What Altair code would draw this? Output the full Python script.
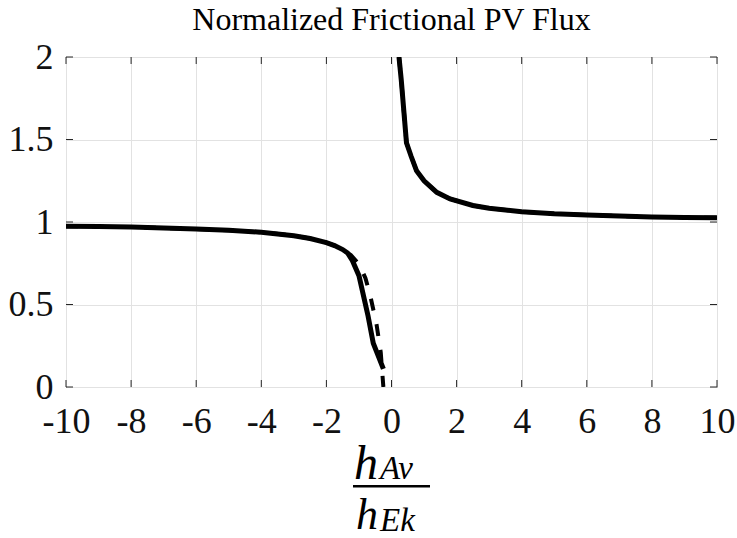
import altair as alt
import pandas as pd

# ---------------- data ----------------
title_text = "Normalized Frictional PV Flux"
x_ticks = [-10, -8, -6, -4, -2, 0, 2, 4, 6, 8, 10]
y_ticks = [0, 0.5, 1, 1.5, 2]

solid_left_x = [-10, -9, -8, -7, -6, -5, -4, -3, -2.5, -2, -1.75, -1.5, -1.35, -1.2, -1.0, -0.72, -0.56, -0.25]
solid_left_y = [0.975, 0.972, 0.969, 0.964, 0.958, 0.950, 0.938, 0.917, 0.900, 0.875, 0.857, 0.833, 0.812, 0.765, 0.675, 0.43, 0.265, 0.11]

solid_right_x = [0.23, 0.3, 0.46, 0.6, 0.77, 1.0, 1.39, 1.8, 2.5, 3, 4, 5, 6, 7, 8, 9, 10]
solid_right_y = [2.0, 1.86, 1.48, 1.40, 1.31, 1.25, 1.18, 1.14, 1.10, 1.083, 1.0625, 1.05, 1.042, 1.036, 1.031, 1.028, 1.025]

dashed_left_x = [-10, -9, -8, -7, -6, -5, -4, -3, -2.5, -2, -1.75, -1.5, -1.25, -1.0, -0.8, -0.66, -0.46, -0.33, -0.25]
dashed_left_y = [0.975, 0.972, 0.969, 0.964, 0.958, 0.950, 0.938, 0.917, 0.900, 0.875, 0.857, 0.833, 0.80, 0.745, 0.66, 0.56, 0.38, 0.21, 0.0]

dashed_right_x = [0.23, 0.3, 0.46, 0.6, 0.77, 1.0, 1.39, 1.8, 2.5, 3, 4, 5, 6, 7, 8, 9, 10]
dashed_right_y = [2.0, 1.86, 1.48, 1.40, 1.31, 1.25, 1.18, 1.14, 1.10, 1.083, 1.0625, 1.05, 1.042, 1.036, 1.031, 1.028, 1.025]

# ---------------- tables ----------------
def table(xs, ys, name):
    return pd.DataFrame({"x": xs, "y": ys, "line": name, "order": list(range(len(xs)))})

solid_df = pd.concat([table(solid_left_x, solid_left_y, "sl"), table(solid_right_x, solid_right_y, "sr")])
dashed_df = pd.concat([table(dashed_left_x, dashed_left_y, "dl"), table(dashed_right_x, dashed_right_y, "dr")])
xt_df = pd.DataFrame({"v": x_ticks})
yt_df = pd.DataFrame({"v": y_ticks})

W, H = 651, 330
FONT = "Liberation Serif"
AX = "#262626"

xscale = alt.Scale(domain=[-10, 10], nice=False, zero=False)
yscale = alt.Scale(domain=[0, 2], nice=False, zero=False)

xaxis = alt.Axis(values=x_ticks, title=None, domain=False, ticks=False, tickSize=0,
                 labelPadding=17, labelFontSize=36, labelFont=FONT, labelColor="#111111",
                 labelExpr="'' + datum.value", grid=True, gridColor="#e2e2e2", gridWidth=1,
                 labelFlush=False, labelOverlap=False)
yaxis = alt.Axis(values=y_ticks, title=None, domain=False, ticks=False, tickSize=0,
                 labelPadding=13, labelFontSize=36, labelFont=FONT, labelColor="#111111",
                 labelExpr="'' + datum.value", grid=True, gridColor="#e2e2e2", gridWidth=1,
                 labelFlush=False, labelOverlap=False)

X = alt.X("x:Q", scale=xscale, axis=xaxis)
Y = alt.Y("y:Q", scale=yscale, axis=yaxis)

solid = alt.Chart(solid_df).mark_line(color="black", strokeWidth=5, clip=True).encode(
    x=X, y=Y, detail="line:N", order="order:Q")
dashed = alt.Chart(dashed_df).mark_line(color="black", strokeWidth=4, strokeDash=[12, 14], clip=True).encode(
    x=X, y=Y, detail="line:N", order="order:Q")

XT = alt.X("v:Q", scale=xscale, axis=xaxis)
YT = alt.Y("v:Q", scale=yscale, axis=yaxis)
tick_b = alt.Chart(xt_df).mark_rule(color=AX, strokeWidth=1).encode(x=XT, y=alt.value(H), y2=alt.value(H - 7))
tick_t = alt.Chart(xt_df).mark_rule(color=AX, strokeWidth=1).encode(x=XT, y=alt.value(0), y2=alt.value(7))
tick_l = alt.Chart(yt_df).mark_rule(color=AX, strokeWidth=1).encode(y=YT, x=alt.value(0), x2=alt.value(7))
tick_r = alt.Chart(yt_df).mark_rule(color=AX, strokeWidth=1).encode(y=YT, x=alt.value(W), x2=alt.value(W - 7))

title = alt.Chart(pd.DataFrame({"t": [title_text]})).mark_text(
    font=FONT, fontSize=32, align="center", baseline="alphabetic", color="black").encode(
    text="t:N", x=alt.value(W / 2), y=alt.value(-27.5))

def txt(s, x, y, size):
    return alt.Chart(pd.DataFrame({"t": [s]})).mark_text(
        font=FONT, fontSize=size, fontStyle="italic", align="left", baseline="alphabetic", color="black").encode(
        text="t:N", x=alt.value(x), y=alt.value(y))

num_h = txt("h", 288, 421.5, 48)
num_s = txt("Av", 314, 422, 33)
den_h = txt("h", 290, 472, 44)
den_s = txt("Ek", 314, 473.5, 33)
bar = alt.Chart(pd.DataFrame({"a": [0]})).mark_rule(color="black", strokeWidth=2.5).encode(
    x=alt.value(287), x2=alt.value(364), y=alt.value(429.3))

chart = alt.layer(solid, dashed, tick_b, tick_t, tick_l, tick_r, title, num_h, num_s, den_h, den_s, bar).properties(
    width=W, height=H,
    padding={"left": 66, "top": 57, "right": 20, "bottom": 151},
    autosize=alt.AutoSizeParams(type="none"),
    background="white",
).configure_view(stroke=AX, strokeWidth=1)

chart.save("out.html", embed_options={"renderer": "svg", "actions": False})
